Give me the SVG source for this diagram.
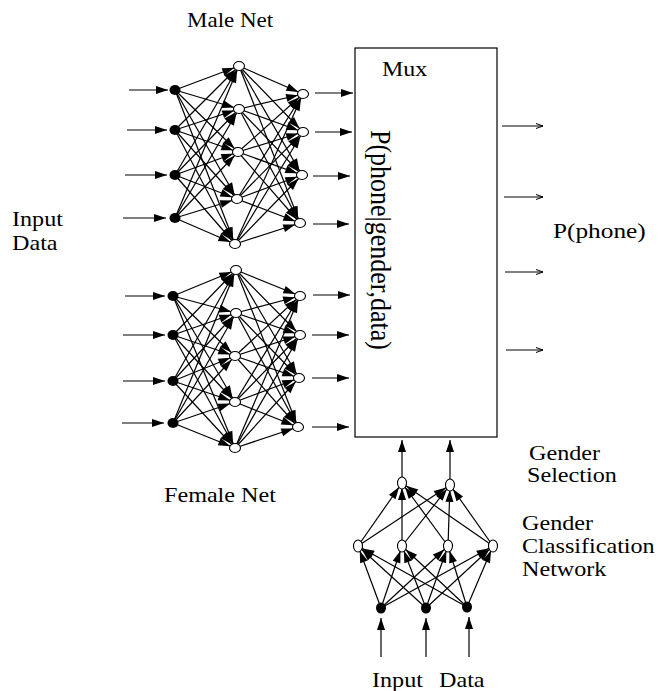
<svg xmlns="http://www.w3.org/2000/svg" width="661" height="691" viewBox="0 0 661 691">
<style>
.c line{stroke:#000;stroke-width:1.2;marker-end:url(#a)}
.c line.x{marker-end:url(#b)}
.c line.o{stroke-width:1;marker-end:url(#o)}
.f{fill:#000}
.h{fill:#fff;stroke:#000;stroke-width:1.1}
text{font-family:"Liberation Serif","Times New Roman",serif;font-size:21px;fill:#000}
</style>
<defs>
<marker id="a" markerUnits="userSpaceOnUse" markerWidth="20" markerHeight="9" refX="17" refY="4" orient="auto" overflow="visible"><path d="M0,0 L12,4 L0,8z" fill="#000"/></marker>
<marker id="b" markerUnits="userSpaceOnUse" markerWidth="13" markerHeight="9" refX="12" refY="4" orient="auto" overflow="visible"><path d="M0,0 L12,4 L0,8z" fill="#000"/></marker>
<marker id="o" markerUnits="userSpaceOnUse" markerWidth="8" markerHeight="6" refX="7" refY="2.5" orient="auto" overflow="visible"><path d="M0,0 L7,2.5 L0,5" fill="none" stroke="#000" stroke-width="1"/></marker>
</defs>
<rect width="661" height="691" fill="#fff"/>
<g id="connectors" class="c">
<line x1="175" y1="90" x2="239" y2="66"/><line x1="175" y1="90" x2="239" y2="109"/><line x1="175" y1="90" x2="238" y2="152"/><line x1="175" y1="90" x2="237" y2="199"/><line x1="175" y1="90" x2="235" y2="244"/>
<line x1="175" y1="130" x2="239" y2="66"/><line x1="175" y1="130" x2="239" y2="109"/><line x1="175" y1="130" x2="238" y2="152"/><line x1="175" y1="130" x2="237" y2="199"/><line x1="175" y1="130" x2="235" y2="244"/>
<line x1="175" y1="175" x2="239" y2="66"/><line x1="175" y1="175" x2="239" y2="109"/><line x1="175" y1="175" x2="238" y2="152"/><line x1="175" y1="175" x2="237" y2="199"/><line x1="175" y1="175" x2="235" y2="244"/>
<line x1="175" y1="218" x2="239" y2="66"/><line x1="175" y1="218" x2="239" y2="109"/><line x1="175" y1="218" x2="238" y2="152"/><line x1="175" y1="218" x2="237" y2="199"/><line x1="175" y1="218" x2="235" y2="244"/>
<line x1="239" y1="66" x2="303" y2="94"/><line x1="239" y1="66" x2="303" y2="132"/><line x1="239" y1="66" x2="302" y2="175"/><line x1="239" y1="66" x2="300" y2="223"/>
<line x1="239" y1="109" x2="303" y2="94"/><line x1="239" y1="109" x2="303" y2="132"/><line x1="239" y1="109" x2="302" y2="175"/><line x1="239" y1="109" x2="300" y2="223"/>
<line x1="238" y1="152" x2="303" y2="94"/><line x1="238" y1="152" x2="303" y2="132"/><line x1="238" y1="152" x2="302" y2="175"/><line x1="238" y1="152" x2="300" y2="223"/>
<line x1="237" y1="199" x2="303" y2="94"/><line x1="237" y1="199" x2="303" y2="132"/><line x1="237" y1="199" x2="302" y2="175"/><line x1="237" y1="199" x2="300" y2="223"/>
<line x1="235" y1="244" x2="303" y2="94"/><line x1="235" y1="244" x2="303" y2="132"/><line x1="235" y1="244" x2="302" y2="175"/><line x1="235" y1="244" x2="300" y2="223"/>
<line x1="173" y1="296" x2="236" y2="270"/><line x1="173" y1="296" x2="236" y2="313"/><line x1="173" y1="296" x2="235" y2="356"/><line x1="173" y1="296" x2="235" y2="402"/><line x1="173" y1="296" x2="235" y2="448"/>
<line x1="173" y1="335" x2="236" y2="270"/><line x1="173" y1="335" x2="236" y2="313"/><line x1="173" y1="335" x2="235" y2="356"/><line x1="173" y1="335" x2="235" y2="402"/><line x1="173" y1="335" x2="235" y2="448"/>
<line x1="173" y1="381" x2="236" y2="270"/><line x1="173" y1="381" x2="236" y2="313"/><line x1="173" y1="381" x2="235" y2="356"/><line x1="173" y1="381" x2="235" y2="402"/><line x1="173" y1="381" x2="235" y2="448"/>
<line x1="173" y1="423" x2="236" y2="270"/><line x1="173" y1="423" x2="236" y2="313"/><line x1="173" y1="423" x2="235" y2="356"/><line x1="173" y1="423" x2="235" y2="402"/><line x1="173" y1="423" x2="235" y2="448"/>
<line x1="236" y1="270" x2="300" y2="296"/><line x1="236" y1="270" x2="300" y2="335"/><line x1="236" y1="270" x2="299" y2="378"/><line x1="236" y1="270" x2="298" y2="427"/>
<line x1="236" y1="313" x2="300" y2="296"/><line x1="236" y1="313" x2="300" y2="335"/><line x1="236" y1="313" x2="299" y2="378"/><line x1="236" y1="313" x2="298" y2="427"/>
<line x1="235" y1="356" x2="300" y2="296"/><line x1="235" y1="356" x2="300" y2="335"/><line x1="235" y1="356" x2="299" y2="378"/><line x1="235" y1="356" x2="298" y2="427"/>
<line x1="235" y1="402" x2="300" y2="296"/><line x1="235" y1="402" x2="300" y2="335"/><line x1="235" y1="402" x2="299" y2="378"/><line x1="235" y1="402" x2="298" y2="427"/>
<line x1="235" y1="448" x2="300" y2="296"/><line x1="235" y1="448" x2="300" y2="335"/><line x1="235" y1="448" x2="299" y2="378"/><line x1="235" y1="448" x2="298" y2="427"/>
<line x1="381" y1="608" x2="358" y2="546"/><line x1="381" y1="608" x2="402" y2="546"/><line x1="381" y1="608" x2="448" y2="546"/><line x1="381" y1="608" x2="493" y2="546"/>
<line x1="426" y1="608" x2="358" y2="546"/><line x1="426" y1="608" x2="402" y2="546"/><line x1="426" y1="608" x2="448" y2="546"/><line x1="426" y1="608" x2="493" y2="546"/>
<line x1="467" y1="607" x2="358" y2="546"/><line x1="467" y1="607" x2="402" y2="546"/><line x1="467" y1="607" x2="448" y2="546"/><line x1="467" y1="607" x2="493" y2="546"/>
<line x1="358" y1="546" x2="402" y2="483"/><line x1="358" y1="546" x2="450" y2="485"/>
<line x1="402" y1="546" x2="402" y2="483"/><line x1="402" y1="546" x2="450" y2="485"/>
<line x1="448" y1="546" x2="402" y2="483"/><line x1="448" y1="546" x2="450" y2="485"/>
<line x1="493" y1="546" x2="402" y2="483"/><line x1="493" y1="546" x2="450" y2="485"/>
<line class="x" x1="129" y1="90" x2="168" y2="90"/><line class="x" x1="127" y1="130" x2="167" y2="130"/><line class="x" x1="125" y1="175" x2="167" y2="175"/><line class="x" x1="123" y1="218" x2="166" y2="218"/>
<line class="x" x1="315" y1="93" x2="353" y2="93"/><line class="x" x1="315" y1="132" x2="352" y2="132"/><line class="x" x1="313" y1="176" x2="350" y2="176"/><line class="x" x1="313" y1="224" x2="349" y2="224"/>
<line class="x" x1="125" y1="296" x2="165" y2="296"/><line class="x" x1="123" y1="335" x2="165" y2="335"/><line class="x" x1="123" y1="381" x2="165" y2="381"/><line class="x" x1="122" y1="423" x2="164" y2="423"/>
<line class="x" x1="313" y1="295" x2="350" y2="295"/><line class="x" x1="312" y1="335" x2="349" y2="335"/><line class="x" x1="312" y1="378" x2="349" y2="378"/><line class="x" x1="312" y1="427" x2="349" y2="427"/>
<line class="x" x1="402" y1="477" x2="402" y2="440"/><line class="x" x1="450" y1="479" x2="450" y2="440"/>
<line class="x" x1="381" y1="657" x2="381" y2="618"/><line class="x" x1="426" y1="657" x2="426" y2="618"/><line class="x" x1="469" y1="657" x2="469" y2="617"/>
<line class="o" x1="502" y1="126" x2="543" y2="126"/><line class="o" x1="504" y1="197" x2="543" y2="197"/><line class="o" x1="505" y1="272" x2="543" y2="272"/><line class="o" x1="506" y1="350" x2="543" y2="350"/>
</g>
<g id="mux"><rect x="355" y="48" width="142" height="389" fill="#fff" stroke="#000" stroke-width="1.2"/>
<text transform="translate(382,76) scale(1.2,1)" style="font-size:20px">Mux</text>
<text transform="translate(371,130) rotate(90) scale(1,1.15)" style="font-size:26px">P(phone|gender,data)</text></g>
<g id="m_i1"><ellipse class="f" cx="175" cy="90" rx="5.5" ry="5"/></g>
<g id="m_i2"><ellipse class="f" cx="175" cy="130" rx="5.5" ry="5"/></g>
<g id="m_i3"><ellipse class="f" cx="175" cy="175" rx="5.5" ry="5"/></g>
<g id="m_i4"><ellipse class="f" cx="175" cy="218" rx="5.5" ry="5"/></g>
<g id="m_h1"><ellipse class="h" cx="239" cy="66" rx="5.5" ry="4.5"/></g>
<g id="m_h2"><ellipse class="h" cx="239" cy="109" rx="5.5" ry="4.5"/></g>
<g id="m_h3"><ellipse class="h" cx="238" cy="152" rx="5.5" ry="4.5"/></g>
<g id="m_h4"><ellipse class="h" cx="237" cy="199" rx="5.5" ry="4.5"/></g>
<g id="m_h5"><ellipse class="h" cx="235" cy="244" rx="5.5" ry="4.5"/></g>
<g id="m_o1"><ellipse class="h" cx="303" cy="94" rx="5.5" ry="4.5"/></g>
<g id="m_o2"><ellipse class="h" cx="303" cy="132" rx="5.5" ry="4.5"/></g>
<g id="m_o3"><ellipse class="h" cx="302" cy="175" rx="5.5" ry="4.5"/></g>
<g id="m_o4"><ellipse class="h" cx="300" cy="223" rx="5.5" ry="4.5"/></g>
<g id="f_i1"><ellipse class="f" cx="173" cy="296" rx="5.5" ry="5"/></g>
<g id="f_i2"><ellipse class="f" cx="173" cy="335" rx="5.5" ry="5"/></g>
<g id="f_i3"><ellipse class="f" cx="173" cy="381" rx="5.5" ry="5"/></g>
<g id="f_i4"><ellipse class="f" cx="173" cy="423" rx="5.5" ry="5"/></g>
<g id="f_h1"><ellipse class="h" cx="236" cy="270" rx="5.5" ry="4.5"/></g>
<g id="f_h2"><ellipse class="h" cx="236" cy="313" rx="5.5" ry="4.5"/></g>
<g id="f_h3"><ellipse class="h" cx="235" cy="356" rx="5.5" ry="4.5"/></g>
<g id="f_h4"><ellipse class="h" cx="235" cy="402" rx="5.5" ry="4.5"/></g>
<g id="f_h5"><ellipse class="h" cx="235" cy="448" rx="5.5" ry="4.5"/></g>
<g id="f_o1"><ellipse class="h" cx="300" cy="296" rx="5.5" ry="4.5"/></g>
<g id="f_o2"><ellipse class="h" cx="300" cy="335" rx="5.5" ry="4.5"/></g>
<g id="f_o3"><ellipse class="h" cx="299" cy="378" rx="5.5" ry="4.5"/></g>
<g id="f_o4"><ellipse class="h" cx="298" cy="427" rx="5.5" ry="4.5"/></g>
<g id="g_i1"><ellipse class="f" cx="381" cy="608" rx="5" ry="5.5"/></g>
<g id="g_i2"><ellipse class="f" cx="426" cy="608" rx="5" ry="5.5"/></g>
<g id="g_i3"><ellipse class="f" cx="467" cy="607" rx="5" ry="5.5"/></g>
<g id="g_h1"><ellipse class="h" cx="358" cy="546" rx="4.5" ry="6"/></g>
<g id="g_h2"><ellipse class="h" cx="402" cy="546" rx="4.5" ry="6"/></g>
<g id="g_h3"><ellipse class="h" cx="448" cy="546" rx="4.5" ry="6"/></g>
<g id="g_h4"><ellipse class="h" cx="493" cy="546" rx="4.5" ry="6"/></g>
<g id="g_o1"><ellipse class="h" cx="402" cy="483" rx="4.5" ry="6"/></g>
<g id="g_o2"><ellipse class="h" cx="450" cy="485" rx="4.5" ry="6"/></g>
<g id="labels">
<text transform="translate(187,27) scale(1.15,1)" style="font-size:20px">Male Net</text>
<text transform="translate(12,226) scale(1.15,1)">Input</text>
<text transform="translate(12,250) scale(1.15,1)">Data</text>
<text transform="translate(164,502) scale(1.15,1)">Female Net</text>
<text transform="translate(553,238) scale(1.15,1)" style="font-size:22px">P(phone)</text>
<text transform="translate(529,460) scale(1.15,1)">Gender</text>
<text transform="translate(527,482) scale(1.15,1)">Selection</text>
<text transform="translate(522,530) scale(1.15,1)">Gender</text>
<text transform="translate(522,553) scale(1.15,1)">Classification</text>
<text transform="translate(522,576) scale(1.15,1)">Network</text>
<text transform="translate(372,687) scale(1.15,1)">Input</text>
<text transform="translate(439,687) scale(1.15,1)">Data</text>
</g>
</svg>
